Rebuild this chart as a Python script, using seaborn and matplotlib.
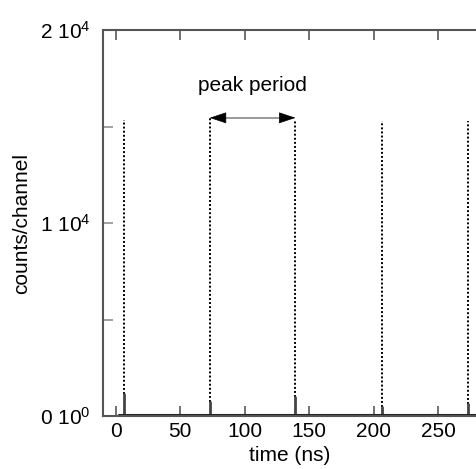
import matplotlib
matplotlib.use("Agg")
import matplotlib.pyplot as plt
import seaborn as sns
import pandas as pd

# ---- data ----
peak_time = [6.5, 73.0, 139.5, 206.3, 273.0]          # ns
peak_counts = [15350, 15450, 15350, 15300, 15300]     # counts/channel
foot_counts = [1150, 700, 1000, 480, 620]
baseline_time = [3.0, 280.0]
baseline_counts = [60, 60]
x_ticks = [0, 50, 100, 150, 200, 250]
y_major = [0, 10000, 20000]
y_major_labels = ["0 10$^{0}$", "1 10$^{4}$", "2 10$^{4}$"]
y_minor = [5000, 15000]
period_start, period_end, period_level = 73.0, 139.5, 15450
annot_text = "peak period"

sns.set_theme(style="white")
plt.rcParams["font.family"] = ["Liberation Sans", "DejaVu Sans"]
plt.rcParams["mathtext.fontset"] = "custom"
plt.rcParams["mathtext.rm"] = "Liberation Sans"
plt.rcParams["mathtext.default"] = "regular"
plt.rcParams["text.color"] = "black"
plt.rcParams["axes.labelcolor"] = "black"
plt.rcParams["xtick.labelcolor"] = "black"
plt.rcParams["ytick.labelcolor"] = "black"

fig = plt.figure(figsize=(4.77, 4.69), dpi=100)
ax = fig.add_axes([0.216, 0.113, 0.784, 0.823])

# peak columns (dotted) and feet (solid)
rows = []
for i, (t, f, p) in enumerate(zip(peak_time, foot_counts, peak_counts)):
    rows.append(dict(peak=i, time=t, counts=f))
    rows.append(dict(peak=i, time=t, counts=p))
df_peaks = pd.DataFrame(rows)
sns.lineplot(data=df_peaks, x="time", y="counts", units="peak", estimator=None,
             sort=False, color="black", lw=1.4, linestyle=(0, (1, 1.1)), ax=ax)

rows = []
for i, (t, f) in enumerate(zip(peak_time, foot_counts)):
    rows.append(dict(peak=i, time=t, counts=0))
    rows.append(dict(peak=i, time=t, counts=f))
df_feet = pd.DataFrame(rows)
sns.lineplot(data=df_feet, x="time", y="counts", units="peak", estimator=None,
             sort=False, color="#444444", lw=2.0, ax=ax)

df_base = pd.DataFrame(dict(time=baseline_time, counts=baseline_counts))
sns.lineplot(data=df_base, x="time", y="counts", color="#222222", lw=1.5, ax=ax)

# period arrow
ax.plot([period_start + 3, period_end - 3], [period_level, period_level],
        color="#888888", lw=1.2)
for tip, tail in [(period_start, period_start + 9), (period_end, period_end - 9)]:
    ax.annotate("", xy=(tip, period_level), xytext=(tail, period_level),
                arrowprops=dict(arrowstyle="-|>,head_length=0.9,head_width=0.3",
                                color="black", lw=0.5, shrinkA=0, shrinkB=0))
ax.text((period_start + period_end) / 2, 17100, annot_text, ha="center",
        va="center", fontsize=15, color="black")

ax.set_xlim(-9.7, 280.2)
ax.set_ylim(0, 20000)
ax.set_xticks(x_ticks)
ax.set_xticklabels([str(v) for v in x_ticks])
ax.set_yticks(y_major)
ax.set_yticklabels(y_major_labels)
ax.set_yticks(y_minor, minor=True)

ax.tick_params(axis="x", which="major", direction="in", top=True, bottom=True,
               length=7, width=1.3, color="#666666", labelsize=15, pad=4,
               labelcolor="black")
ax.tick_params(axis="y", which="both", direction="in", left=True, right=False,
               length=7, width=1.3, color="#999999", labelsize=15, pad=9,
               labelcolor="black")

for s in ["left", "top", "bottom"]:
    ax.spines[s].set_color("#555555")
    ax.spines[s].set_linewidth(1.5)
ax.spines["right"].set_visible(False)

ax.set_xlabel("time (ns)", fontsize=15, labelpad=4, color="black")
ax.set_ylabel("counts/channel", fontsize=15, color="black")
ax.yaxis.set_label_coords(-0.193, 0.5)
ax.grid(False)

fig.savefig("out.png", dpi=100)
